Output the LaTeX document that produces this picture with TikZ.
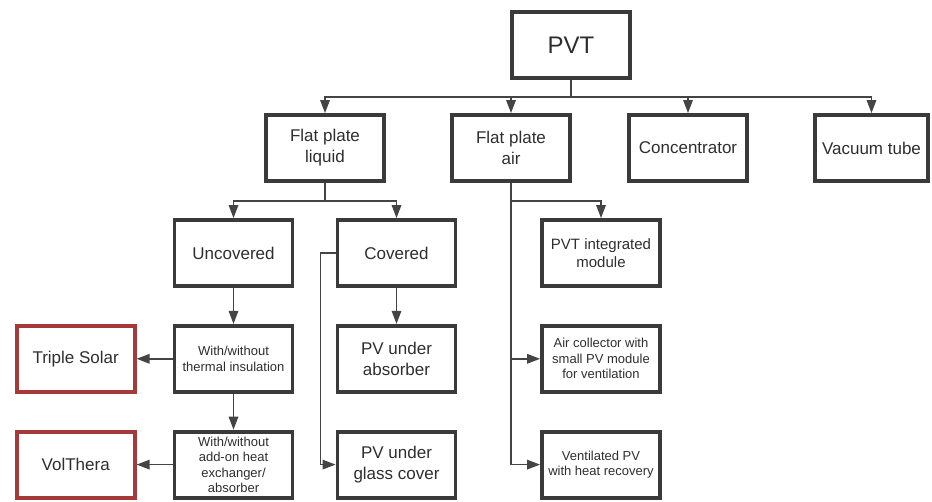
\documentclass[tikz,border=0pt]{standalone}
\usepackage{fontspec}
\setmainfont{Liberation Sans}
\usepackage{tikz}
\usetikzlibrary{arrows.meta,positioning}
\definecolor{framegray}{HTML}{3A3A3A}
\definecolor{linkgray}{HTML}{444444}
\definecolor{brandred}{HTML}{A63A3A}
\definecolor{textgray}{HTML}{2E2E2E}
\begin{document}
\begin{tikzpicture}[
      x=1pt, y=1pt,
      font=\fontsize{17}{21}\selectfont, text=textgray,
      box/.style={draw=framegray, line width=3.8pt, align=center, minimum height=66pt, minimum width=118pt, inner sep=2pt},
      brand/.style={box, draw=brandred},
      small/.style={font=\fontsize{13}{15.5}\selectfont},
      mid/.style={font=\fontsize{15}{18}\selectfont},
      arrow/.style={-{Triangle[length=13pt, width=9.5pt]}, line width=1.5pt, draw=linkgray},
      link/.style={line width=1.5pt, draw=linkgray}
    ]
    \useasboundingbox (0,0) rectangle (932,-501);
    \node[box, font=\fontsize{24}{28}\selectfont] (pvt) at (571,-45) {PVT};
    \node[box] (liq) at (325,-148) {Flat plate\\liquid};
    \node[box] (air) at (511,-148) {Flat plate\\air};
    \node[box] (conc) at (688,-148) {Concentrator};
    \node[box, minimum width=113.5pt] (vac) at (871.5,-148) {Vacuum tube};
    \node[box] (uncov) at (233.5,-253) {Uncovered};
    \node[box] (cov) at (396.5,-253) {Covered};
    \node[box, mid] (pvtint) at (601,-253) {PVT integrated\\module};
    \node[box, small, below=36pt of uncov] (insul) {With/without\\thermal insulation};
    \node[box, small, below=36pt of insul] (addon) {With/without\\add-on heat\\exchanger/\\absorber};
    \node[brand, left=36pt of insul] (triple) {Triple Solar};
    \node[brand, left=36pt of addon] (volt) {VolThera};
    \node[box, below=36pt of cov] (under) {PV under\\absorber};
    \node[box, below=36pt of under] (glass) {PV under\\glass cover};
    \node[box, small, below=36pt of pvtint] (aircol) {Air collector with\\small PV module\\for ventilation};
    \node[box, small, below=36pt of aircol] (vent) {Ventilated PV\\with heat recovery};
    \coordinate[below=17pt of pvt.south] (pvtbus);
    \coordinate[below=18pt of liq.south] (liqbus);
    \coordinate[below=18pt of air.south] (airbus);
    \draw[link] (pvt.south) -- (pvtbus);
    \draw[arrow] (pvtbus) -| (liq);
    \draw[arrow] (pvtbus) -| (air);
    \draw[arrow] (pvtbus) -| (conc);
    \draw[arrow] (pvtbus) -| (vac);
    \draw[link] (liq.south) -- (liqbus);
    \draw[arrow] (liqbus) -| (uncov);
    \draw[arrow] (liqbus) -| (cov);
    \draw[arrow] (airbus) -| (pvtint);
    \draw[arrow] (air.south) |- (aircol);
    \draw[arrow] (air.south) |- (vent);
    \draw[arrow] (uncov) -- (insul);
    \draw[arrow] (insul) -- (addon);
    \draw[arrow] (insul) -- (triple);
    \draw[arrow] (addon) -- (volt);
    \draw[arrow] (cov) -- (under);
    \draw[arrow] (cov.west) -- ++(-15,0) |- (glass);
  \end{tikzpicture}
\end{document}
